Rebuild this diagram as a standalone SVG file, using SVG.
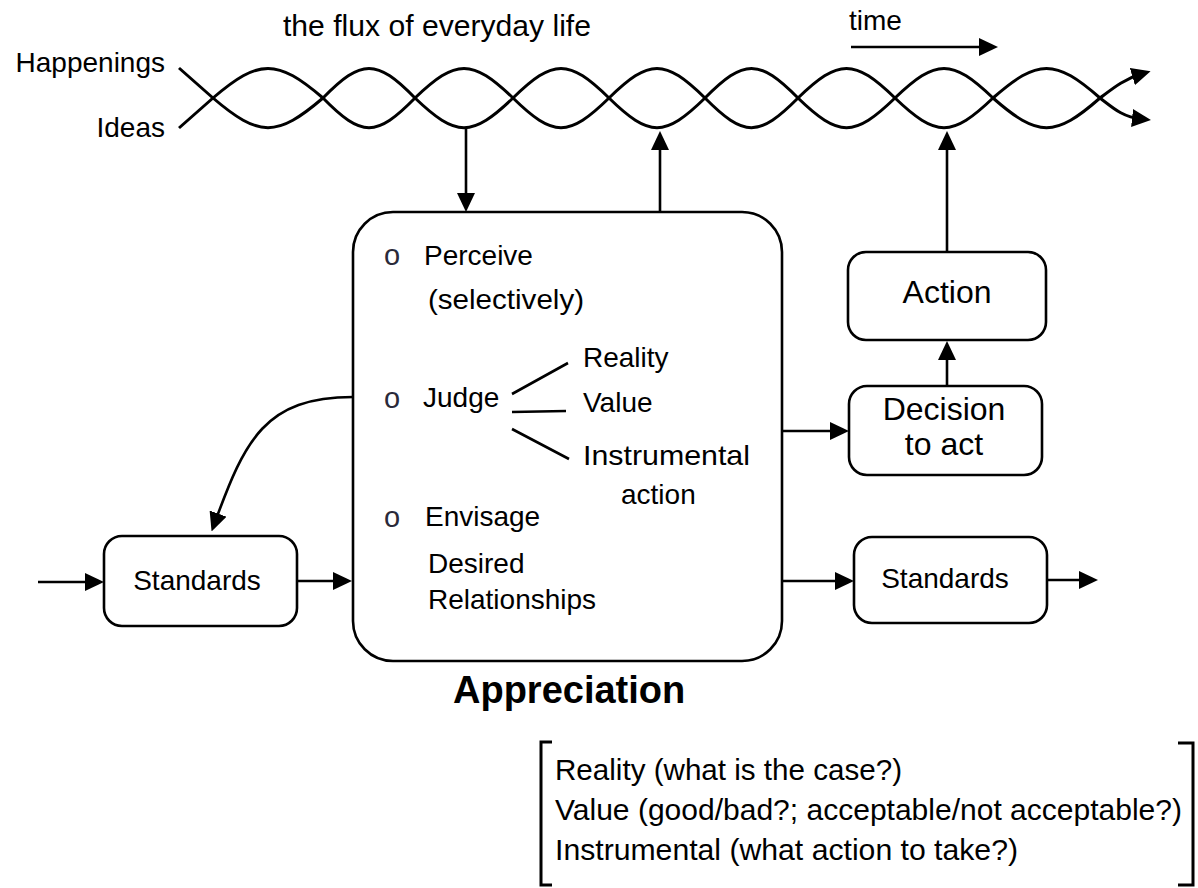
<svg xmlns="http://www.w3.org/2000/svg" width="1198" height="888" viewBox="0 0 1198 888">
<defs>
<style>
text{font-family:"Liberation Sans",Arial,sans-serif;fill:#000;}
.t28{font-size:28px;}
.t29{font-size:29px;}
.t32{font-size:32px;}
.mid{text-anchor:middle;}
.end{text-anchor:end;}
.box{fill:#fff;stroke:#000;stroke-width:2.6;}
.wave{fill:none;stroke:#000;stroke-width:3;}
.conn{fill:none;stroke:#000;stroke-width:2.6;marker-end:url(#ah);}
.bullet{font-size:29px;fill:#2a2a3a;}
.brk{fill:none;stroke:#000;stroke-width:3;}
</style>
<marker id="ah" markerUnits="userSpaceOnUse" markerWidth="19" markerHeight="18" refX="9" refY="9" orient="auto" viewBox="0 0 19 18"><path d="M0,0 L19,9 L0,18 z" fill="#000"/></marker>
</defs>
<rect width="1198" height="888" fill="#fff"/>

<g id="flux">
<text class="t29" x="283" y="36" textLength="308" lengthAdjust="spacingAndGlyphs">the flux of everyday life</text>
<text class="t28 end" x="165" y="72">Happenings</text>
<text class="t28 end" x="165" y="137">Ideas</text>
<text class="t28" x="849" y="30">time</text>
<path class="wave" d="M179,68 L213,98 C259.2,137.5 276.8,137.5 323,98 C361.6,58.5 376.4,58.5 415,98 C456.2,137.5 471.8,137.5 513,98 C553.3,58.5 568.7,58.5 609,98 C649.3,137.5 664.7,137.5 705,98 C744.1,58.5 758.9,58.5 798,98 C838.7,137.5 854.3,137.5 895,98 C936.2,58.5 951.8,58.5 993,98 C1037.9,137.5 1055.1,137.5 1100,98 C1112,89 1124,79 1141,74" marker-end="url(#ah)"/>
<path class="wave" d="M179,128 L213,98 C259.2,58.5 276.8,58.5 323,98 C361.6,137.5 376.4,137.5 415,98 C456.2,58.5 471.8,58.5 513,98 C553.3,137.5 568.7,137.5 609,98 C649.3,58.5 664.7,58.5 705,98 C744.1,137.5 758.9,137.5 798,98 C838.7,58.5 854.3,58.5 895,98 C936.2,137.5 951.8,137.5 993,98 C1037.9,58.5 1055.1,58.5 1100,98 C1112,107 1122,117 1141,119" marker-end="url(#ah)"/>
</g>

<g id="appreciation">
<rect class="box" x="353" y="212" width="429" height="449" rx="40" ry="40"/>
<text class="bullet mid" x="392" y="265">o</text>
<text class="t28" x="424" y="265">Perceive</text>
<text class="t28" x="428" y="309" textLength="156" lengthAdjust="spacingAndGlyphs">(selectively)</text>
<text class="bullet mid" x="392" y="408">o</text>
<text class="t28" x="423" y="407">Judge</text>
<path d="M512,394 L568,363 M512,412 L566,411 M512,429 L569,459" fill="none" stroke="#000" stroke-width="2.6"/>
<text class="t28" x="583" y="367">Reality</text>
<text class="t28" x="583" y="412">Value</text>
<text class="t28" x="583" y="465" textLength="167" lengthAdjust="spacingAndGlyphs">Instrumental</text>
<text class="t28" x="621" y="504">action</text>
<text class="bullet mid" x="392" y="527">o</text>
<text class="t28" x="425" y="526">Envisage</text>
<text class="t28" x="428" y="573">Desired</text>
<text class="t28" x="428" y="609">Relationships</text>
<text x="453" y="703" style="font-size:38px;font-weight:bold">Appreciation</text>
</g>

<g id="action">
<rect class="box" x="848" y="252" width="198" height="88" rx="18" ry="18"/>
<text class="t32 mid" x="947" y="303">Action</text>
</g>

<g id="decision">
<rect class="box" x="849" y="386" width="193" height="89" rx="18" ry="18"/>
<text class="t32 mid" x="944" y="420">Decision</text>
<text class="t32 mid" x="944" y="455">to act</text>
</g>

<g id="standards-right">
<rect class="box" x="854" y="537" width="193" height="86" rx="18" ry="18"/>
<text class="t28 mid" x="945" y="588">Standards</text>
</g>

<g id="standards-left">
<rect class="box" x="104" y="536" width="193" height="90" rx="18" ry="18"/>
<text class="t28 mid" x="197" y="590">Standards</text>
</g>

<g id="connectors">
<path class="conn" d="M851,47 L988,47"/>
<path class="conn" d="M466,128 L466,202"/>
<path class="conn" d="M660,212 L660,141"/>
<path class="conn" d="M947,252 L947,141"/>
<path class="conn" d="M947,386 L947,351"/>
<path class="conn" d="M782,431 L839,431"/>
<path class="conn" d="M782,581 L844,581"/>
<path class="conn" d="M1047,580 L1088,580"/>
<path class="conn" d="M38,582 L94,582"/>
<path class="conn" d="M297,581 L342,581"/>
<path class="conn" d="M353,397 C265,397 245,440 215,522"/>
</g>

<g id="legend">
<path class="brk" d="M552,742 L541,742 L541,885 L552,885"/>
<path class="brk" d="M1178,743 L1193,743 L1193,885 L1178,885"/>
<text class="t29" x="555" y="780" textLength="347" lengthAdjust="spacingAndGlyphs">Reality (what is the case?)</text>
<text class="t29" x="555" y="820" textLength="627" lengthAdjust="spacingAndGlyphs">Value (good/bad?; acceptable/not acceptable?)</text>
<text class="t29" x="555" y="860" textLength="463" lengthAdjust="spacingAndGlyphs">Instrumental (what action to take?)</text>
</g>
</svg>
